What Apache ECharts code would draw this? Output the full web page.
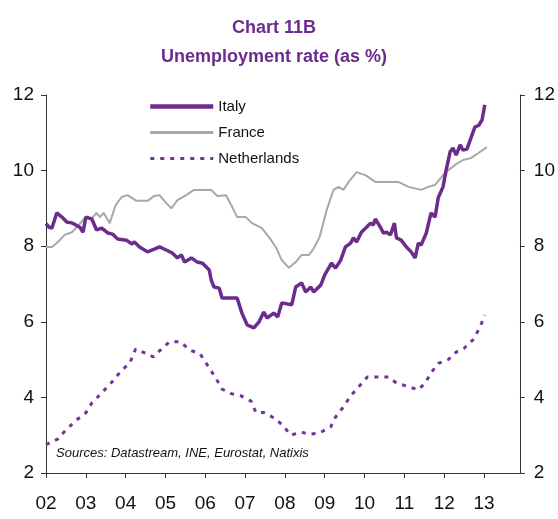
<!DOCTYPE html>
<html>
<head>
<meta charset="utf-8">
<script src="https://cdn.jsdelivr.net/npm/echarts@6/dist/echarts.min.js"></script>
<style>
html,body{margin:0;padding:0;background:#fff;}
#main{width:558px;height:519px;}
</style>
</head>
<body>
<div id="main"></div>
<script>
var FONT = "'Liberation Sans', Arial, sans-serif";
var PURPLE = '#6b2c8e';
var GREY = '#a8a8a8';

var seriesNames = ['Italy', 'France', 'Netherlands'];

// [year, %]
var italy = [
	[2002.0,8.6],[2002.08,8.5],[2002.15,8.48],[2002.27,8.88],[2002.4,8.77],[2002.52,8.64],[2002.67,8.61],
	[2002.85,8.5],[2002.93,8.37],[2003.0,8.77],[2003.15,8.72],[2003.27,8.43],[2003.4,8.48],[2003.55,8.35],
	[2003.67,8.32],[2003.8,8.19],[2004.02,8.16],[2004.15,8.06],[2004.22,8.11],[2004.35,7.98],[2004.55,7.85],
	[2004.72,7.92],[2004.85,7.98],[2005.02,7.9],[2005.17,7.82],[2005.3,7.69],[2005.4,7.77],[2005.48,7.58],
	[2005.65,7.69],[2005.8,7.58],[2005.93,7.55],[2006.1,7.37],[2006.15,7.1],[2006.22,6.92],[2006.35,6.89],
	[2006.42,6.63],[2006.8,6.63],[2006.92,6.23],[2007.05,5.92],[2007.22,5.84],[2007.35,6.0],[2007.47,6.26],
	[2007.55,6.1],[2007.72,6.23],[2007.82,6.13],[2007.92,6.5],[2008.17,6.45],[2008.27,6.92],[2008.42,7.03],
	[2008.52,6.79],[2008.65,6.92],[2008.72,6.79],[2008.9,6.97],[2009.0,7.24],[2009.17,7.55],[2009.27,7.42],
	[2009.4,7.63],[2009.52,7.98],[2009.65,8.08],[2009.72,8.22],[2009.8,8.11],[2009.92,8.37],[2010.05,8.5],
	[2010.15,8.61],[2010.22,8.56],[2010.27,8.72],[2010.4,8.5],[2010.47,8.35],[2010.55,8.37],[2010.65,8.3],
	[2010.75,8.61],[2010.8,8.22],[2010.92,8.16],[2011.05,7.98],[2011.17,7.85],[2011.27,7.69],[2011.35,8.08],
	[2011.42,8.03],[2011.55,8.35],[2011.67,8.88],[2011.77,8.77],[2011.85,9.28],[2011.97,9.57],[2012.05,10.02],
	[2012.15,10.5],[2012.22,10.6],[2012.3,10.41],[2012.4,10.68],[2012.47,10.54],[2012.57,10.57],[2012.67,10.86],
	[2012.77,11.15],[2012.87,11.2],[2012.95,11.34],[2013.02,11.74]
];
var france = [
	[2002.0,7.98],[2002.15,7.98],[2002.3,8.11],[2002.47,8.3],[2002.65,8.37],[2002.77,8.5],[2002.97,8.74],
	[2003.15,8.74],[2003.27,8.88],[2003.35,8.77],[2003.45,8.88],[2003.6,8.61],[2003.75,9.09],[2003.9,9.3],
	[2004.05,9.35],[2004.27,9.2],[2004.55,9.2],[2004.72,9.33],[2004.85,9.35],[2005.02,9.14],[2005.15,9.0],
	[2005.3,9.22],[2005.52,9.35],[2005.72,9.49],[2006.15,9.49],[2006.3,9.33],[2006.52,9.35],[2006.65,9.09],
	[2006.8,8.77],[2007.02,8.77],[2007.17,8.61],[2007.42,8.48],[2007.6,8.24],[2007.77,7.98],[2007.92,7.63],
	[2008.1,7.43],[2008.27,7.58],[2008.42,7.77],[2008.6,7.77],[2008.7,7.9],[2008.87,8.24],[2009.05,8.96],
	[2009.22,9.49],[2009.35,9.57],[2009.47,9.49],[2009.6,9.7],[2009.8,9.96],[2010.02,9.88],[2010.27,9.7],
	[2010.85,9.7],[2011.1,9.57],[2011.42,9.49],[2011.6,9.57],[2011.77,9.62],[2012.02,9.94],[2012.27,10.15],
	[2012.47,10.28],[2012.67,10.33],[2012.85,10.46],[2013.07,10.62]
];
var netherlands = [
	[2002.0,2.75],[2002.3,2.9],[2002.5,3.14],[2002.8,3.43],[2003.0,3.59],[2003.15,3.85],[2003.4,4.12],
	[2003.65,4.4],[2003.9,4.72],[2004.1,4.9],[2004.25,5.28],[2004.5,5.17],[2004.7,5.07],[2004.87,5.25],
	[2005.1,5.47],[2005.37,5.47],[2005.62,5.25],[2005.87,5.15],[2006.05,4.86],[2006.27,4.5],[2006.42,4.22],
	[2006.65,4.1],[2006.9,4.04],[2007.15,3.9],[2007.27,3.6],[2007.47,3.6],[2007.77,3.43],[2007.95,3.25],
	[2008.15,3.0],[2008.4,3.08],[2008.62,3.03],[2008.85,3.05],[2009.15,3.22],[2009.27,3.48],[2009.47,3.75],
	[2009.65,4.04],[2009.85,4.28],[2010.07,4.54],[2010.35,4.54],[2010.6,4.54],[2010.8,4.38],[2011.05,4.3],
	[2011.35,4.2],[2011.52,4.38],[2011.67,4.65],[2011.85,4.9],[2012.1,5.0],[2012.3,5.2],[2012.5,5.3],
	[2012.72,5.52],[2012.9,5.86],[2013.02,6.18]
];

var myChart = echarts.init(document.getElementById('main'));

function yAxisOpt(pos){
	return {
		type: 'value',
		position: pos,
		min: 2, max: 12, interval: 2,
		axisLine: { show: true, lineStyle: { color: '#333', width: 1 } },
		axisTick: { show: true, length: 5, lineStyle: { color: '#333' } },
		splitLine: { show: false },
		axisLabel: {
			margin: pos == 'left' ? 12 : 14,
			fontFamily: FONT, fontSize: 19, color: '#111'
		}
	};
}

var option = {
	animation: false,
	title: {
		text: 'Chart 11B\nUnemployment rate (as %)',
		left: 269, top: 9,
		textAlign: 'center',
		textStyle: {
			fontFamily: FONT, fontSize: 18, fontWeight: 'bold',
			color: PURPLE, lineHeight: 29
		}
	},
	legend: {
		orient: 'vertical',
		left: 143, top: 94,
		itemWidth: 63, itemHeight: 15, itemGap: 11,
		itemStyle: { opacity: 0 },
		data: [
			{ name: seriesNames[0], lineStyle: { width: 4.5 } },
			{ name: seriesNames[1], lineStyle: { width: 3 } },
			{ name: seriesNames[2], lineStyle: { width: 3 } }
		],
		textStyle: { fontFamily: FONT, fontSize: 15, color: '#111' }
	},
	grid: { left: 46, right: 36, top: 95, bottom: 46 },
	xAxis: {
		type: 'value',
		min: 2002, max: 2013.9, interval: 1,
		axisLine: { show: true, lineStyle: { color: '#333', width: 1 } },
		axisTick: { show: true, length: 5, lineStyle: { color: '#333' } },
		splitLine: { show: false },
		axisLabel: {
			margin: 21,
			showMaxLabel: false,
			fontFamily: FONT, fontSize: 19, color: '#111',
			formatter: function(v){
				if (Math.abs(v - Math.round(v)) > 0.01) return '';
				return String(Math.round(v) % 100).padStart(2, '0');
			}
		}
	},
	yAxis: [ yAxisOpt('left'), yAxisOpt('right') ],
	graphic: [{
		type: 'text',
		left: 56, top: 447,
		style: {
			text: 'Sources: Datastream, INE, Eurostat, Natixis',
			fontFamily: FONT, fontSize: 13, fontStyle: 'italic', fill: '#111'
		}
	}],
	series: [{
		name: seriesNames[0],
		type: 'line',
		data: italy,
		symbol: 'none',
		z: 3,
		lineStyle: { color: PURPLE, width: 3.5 },
		itemStyle: { color: PURPLE }
	}, {
		name: seriesNames[1],
		type: 'line',
		data: france,
		symbol: 'none',
		z: 2,
		lineStyle: { color: GREY, width: 2 },
		itemStyle: { color: GREY }
	}, {
		name: seriesNames[2],
		type: 'line',
		data: netherlands,
		symbol: 'none',
		z: 2,
		lineStyle: { color: '#74329a', width: 3, type: [4, 6] },
		itemStyle: { color: '#74329a' }
	}]
};
myChart.setOption(option);
</script>
</body>
</html>
